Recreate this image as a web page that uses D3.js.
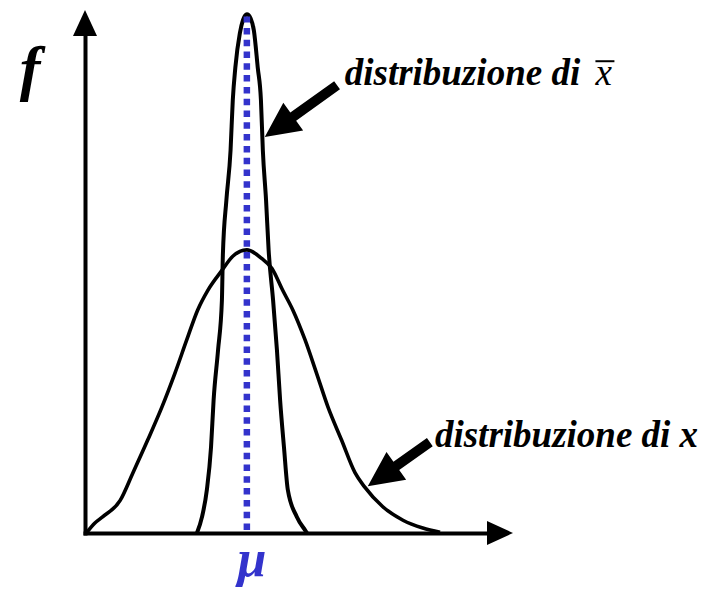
<!DOCTYPE html>
<html>
<head>
<meta charset="utf-8">
<script src="https://cdn.jsdelivr.net/npm/d3@7/dist/d3.min.js"></script>
</head>
<body style="margin:0">
<svg id="chart" width="703" height="595" font-family="Liberation Serif"></svg>
<script>
// ---- data (x in units of sigma from mu, y = density) ----
const wideX = [-2.50, -2.375, -2.25, -1.98, -1.78, -1.55, -1.33, -1.125, -0.94, -0.77, -0.61, -0.39, -0.22, 0.00,
               0.23, 0.39, 0.56, 0.72, 0.91, 1.09, 1.27, 1.48, 1.69, 1.84, 2.125, 2.44, 2.75, 3.02];
const wideY = [0.001, 0.014, 0.023, 0.046, 0.085, 0.131, 0.177, 0.225, 0.272, 0.314, 0.342, 0.370, 0.390, 0.399,
               0.387, 0.373, 0.342, 0.314, 0.272, 0.225, 0.177, 0.131, 0.085, 0.065, 0.037, 0.018, 0.007, 0.001];

const narrowX = [-0.78, -0.70, -0.625, -0.56, -0.52, -0.45, -0.39, -0.375, -0.32, -0.255, -0.22, -0.18, -0.11, -0.06, 0.00,
                 0.06, 0.11, 0.17, 0.22, 0.25, 0.30, 0.34, 0.41, 0.47, 0.52, 0.58, 0.64, 0.78, 0.91, 0.94];
const narrowY = [0.000, 0.023, 0.061, 0.121, 0.187, 0.258, 0.328, 0.392, 0.469, 0.539, 0.610, 0.656, 0.704, 0.723, 0.731,
                 0.725, 0.708, 0.656, 0.610, 0.539, 0.469, 0.399, 0.328, 0.258, 0.187, 0.121, 0.061, 0.023, 0.004, 0.000];

const muValue = 0;
const muTop = 0.728;

const labelTexts = ["distribuzione di ", "x", "distribuzione di x"];
// annotation arrows: [tailX, tailY, tipX, tipY] in data units
const arrow1 = [1.41, 0.631, 0.28, 0.558];
const arrow2 = [2.86, 0.128, 1.89, 0.066];
const label1Pos = [1.53, 0.631];
const label2Pos = [2.94, 0.121];

const blue = "#3333CC";

// ---- scales ----
const x = d3.scaleLinear().domain([-2.53, 4.16]).range([85, 513]);
const y = d3.scaleLinear().domain([0, 0.737]).range([533, 10]);

const svg = d3.select("#chart");

// ---- axes (no ticks) ----
const xAxisScale = d3.scaleLinear().domain([x.invert(83), x.invert(495)]).range([83, 495]);
const yAxisScale = d3.scaleLinear().domain([y.invert(535), y.invert(28)]).range([535, 28]);

const gx = svg.append("g").attr("transform", `translate(0,${y(0)})`)
  .call(d3.axisBottom(xAxisScale).tickValues([]).tickSizeOuter(0));
gx.select(".domain").attr("stroke", "#000").attr("stroke-width", 4);

const gy = svg.append("g").attr("transform", `translate(${x(-2.53)},0)`)
  .call(d3.axisLeft(yAxisScale).tickValues([]).tickSizeOuter(0));
gy.select(".domain").attr("stroke", "#000").attr("stroke-width", 4);

// arrowheads of axes
const xTip = [x(4.16), y(0)];
svg.append("path")
  .attr("d", `M${xTip[0]},${xTip[1]} L${xTip[0]-26},${xTip[1]-12} L${xTip[0]-26},${xTip[1]+12} Z`)
  .attr("fill", "#000");
const yTip = [x(-2.53), y(0.737)];
svg.append("path")
  .attr("d", `M${yTip[0]},${yTip[1]} L${yTip[0]-12},${yTip[1]+26} L${yTip[0]+12},${yTip[1]+26} Z`)
  .attr("fill", "#000");

// ---- curves ----
const line = d3.line().x(d => x(d[0])).y(d => y(d[1])).curve(d3.curveMonotoneX);
svg.append("path").datum(wideX.map((v, i) => [v, wideY[i]]))
  .attr("d", line).attr("fill", "none").attr("stroke", "#000").attr("stroke-width", 3.6)
  .attr("stroke-linejoin", "round");
svg.append("path").datum(narrowX.map((v, i) => [v, narrowY[i]]))
  .attr("d", line).attr("fill", "none").attr("stroke", "#000").attr("stroke-width", 4)
  .attr("stroke-linejoin", "round");

// ---- mu dotted line ----
svg.append("line")
  .attr("x1", x(muValue)).attr("x2", x(muValue))
  .attr("y1", y(0) - 3).attr("y2", y(muTop))
  .attr("stroke", blue).attr("stroke-width", 6.5)
  .attr("stroke-dasharray", "6.5,5.3");

// ---- annotation arrows ----
function drawArrow(a) {
  const x0 = x(a[0]), y0 = y(a[1]), x1 = x(a[2]), y1 = y(a[3]);
  const dx = x1 - x0, dy = y1 - y0, L = Math.hypot(dx, dy);
  const ux = dx / L, uy = dy / L, px = -uy, py = ux;
  const headLen = 35, headW = 17, shaftW = 5;
  const bx = x1 - ux * headLen, by = y1 - uy * headLen;
  const pts = [
    [x0 + px * shaftW, y0 + py * shaftW],
    [bx + px * shaftW, by + py * shaftW],
    [bx + px * headW, by + py * headW],
    [x1, y1],
    [bx - px * headW, by - py * headW],
    [bx - px * shaftW, by - py * shaftW],
    [x0 - px * shaftW, y0 - py * shaftW]
  ];
  svg.append("path").attr("d", "M" + pts.map(p => p.join(",")).join("L") + "Z").attr("fill", "#000");
}
drawArrow(arrow1);
drawArrow(arrow2);

// ---- labels ----
const t1 = svg.append("text")
  .attr("x", x(label1Pos[0])).attr("y", y(label1Pos[1]))
  .attr("font-family", "Liberation Serif").attr("font-size", 37).attr("font-weight", "bold").attr("font-style", "italic");
t1.append("tspan").text(labelTexts[0]);
t1.append("tspan").text(labelTexts[1]).attr("font-weight", "normal").attr("dx", 6);

svg.append("text")
  .attr("x", x(label2Pos[0])).attr("y", y(label2Pos[1]))
  .attr("font-family", "Liberation Serif").attr("font-size", 37).attr("font-weight", "bold").attr("font-style", "italic")
  .text(labelTexts[2]);

svg.append("text")
  .attr("x", 30).attr("y", 89).attr("text-anchor", "middle")
  .attr("font-family", "Liberation Serif").attr("font-size", 62).attr("font-weight", "bold").attr("font-style", "italic")
  .text("f");

svg.append("text")
  .attr("x", x(muValue) + 5).attr("y", 576).attr("text-anchor", "middle")
  .attr("font-family", "Liberation Serif").attr("font-size", 52).attr("font-weight", "bold").attr("font-style", "italic")
  .attr("fill", blue)
  .text("μ");

// overline of x-bar, placed after layout
const xb = t1.selectAll("tspan").nodes()[1].getBBox();
svg.append("line")
  .attr("x1", xb.x + 1).attr("x2", xb.x + xb.width + 2)
  .attr("y1", y(label1Pos[1]) - 24).attr("y2", y(label1Pos[1]) - 24)
  .attr("stroke", "#000").attr("stroke-width", 2);
</script>
</body>
</html>
